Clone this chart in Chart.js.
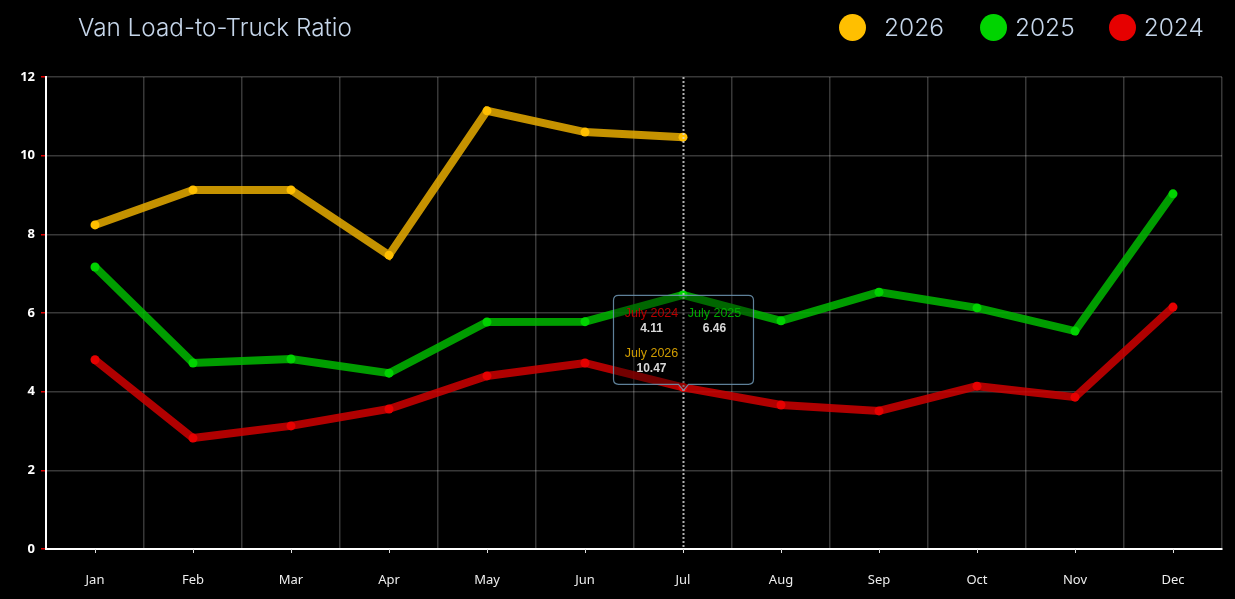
<!DOCTYPE html>
<html>
<head>
<meta charset="utf-8">
<script src="https://cdn.jsdelivr.net/npm/chart.js@4.4.1/dist/chart.umd.min.js"></script>
<style>
  html, body { margin: 0; padding: 0; background: #000; }
  body { width: 1235px; height: 599px; position: relative; overflow: hidden; }
  #wrap { position: absolute; left: 0; top: 0; width: 1235px; height: 599px; }
  #title { position: absolute; left: 78px; top: 12px; font-family: Inter, "Noto Sans", sans-serif; font-weight: 300; font-size: 24.3px; color: #c6d6ea; white-space: nowrap; }
  #legend { position: absolute; top: 12px; left: 839px; font-family: Inter, "Noto Sans", sans-serif; font-weight: 300; font-size: 24.5px; color: #c6d6ea; white-space: nowrap; display: flex; align-items: center; }
  .item { display: flex; align-items: center; }
  .dot { width: 27px; height: 27px; border-radius: 50%; display: inline-block; }
</style>
</head>
<body>
<div id="wrap"><canvas id="c" width="1235" height="599"></canvas></div>
<div id="title">Van Load-to-Truck Ratio</div>
<div id="legend"></div>
<script>
const months = ["Jan","Feb","Mar","Apr","May","Jun","Jul","Aug","Sep","Oct","Nov","Dec"];
const fullMonths = ["January","February","March","April","May","June","July","August","September","October","November","December"];
const years = ["2024","2025","2026"];
const values2024 = [4.81, 2.82, 3.13, 3.56, 4.40, 4.73, 4.11, 3.66, 3.51, 4.14, 3.86, 6.15];
const values2025 = [7.17, 4.73, 4.83, 4.47, 5.77, 5.78, 6.46, 5.80, 6.53, 6.13, 5.54, 9.03];
const values2026 = [8.24, 9.13, 9.13, 7.47, 11.14, 10.60, 10.47];
const yTicks = [0, 2, 4, 6, 8, 10, 12];
const hoverIndex = 6;

const lineColors = ["rgba(207,0,0,0.85)", "rgba(0,184,0,0.85)", "rgba(232,172,0,0.85)"];
const pointColors = ["#e60000", "#00d400", "#ffbf00"];
const textColors = ["#b80000", "#00a800", "#d09c00"];
const seriesValues = [values2024, values2025, values2026];

// HTML legend (reverse order)
const legendEl = document.getElementById('legend');
const gaps = {"2026": 18, "2025": 8, "2024": 8};
const itemGaps = {"2026": 36, "2025": 34, "2024": 0};
[2, 1, 0].forEach(i => {
  const it = document.createElement('div');
  it.className = 'item';
  it.style.marginRight = itemGaps[years[i]] + 'px';
  const d = document.createElement('span');
  d.className = 'dot';
  d.style.background = pointColors[i];
  d.style.marginRight = gaps[years[i]] + 'px';
  const t = document.createElement('span');
  t.textContent = years[i];
  it.appendChild(d); it.appendChild(t);
  legendEl.appendChild(it);
});

const overlayPlugin = {
  id: 'overlay',
  afterDatasetsDraw(chart) {
    const ctx = chart.ctx;
    const x = chart.scales.x;
    const y = chart.scales.y;
    const area = chart.chartArea;
    ctx.save();
    // x tick marks at category centers
    ctx.strokeStyle = '#e0e0e0';
    ctx.lineWidth = 1;
    months.forEach((m, i) => {
      const px = Math.round(x.getPixelForValue(i)) + 0.5;
      ctx.beginPath();
      ctx.moveTo(px, area.bottom);
      ctx.lineTo(px, area.bottom + 4);
      ctx.stroke();
    });
    // vertical hover line
    const hx = Math.round(x.getPixelForValue(hoverIndex)) + 0.5;
    ctx.strokeStyle = 'rgba(220,220,220,0.8)';
    ctx.setLineDash([2, 2]);
    ctx.lineWidth = 2;
    ctx.beginPath();
    ctx.moveTo(hx, area.top);
    ctx.lineTo(hx, area.bottom);
    ctx.stroke();
    ctx.setLineDash([]);
    // tooltip box
    const bw = 140, bh = 89;
    const bx = hx - bw / 2, by = y.getPixelForValue(values2024[hoverIndex]) - 3 - bh;
    const r = 5;
    ctx.beginPath();
    ctx.moveTo(bx + r, by);
    ctx.lineTo(bx + bw - r, by);
    ctx.quadraticCurveTo(bx + bw, by, bx + bw, by + r);
    ctx.lineTo(bx + bw, by + bh - r);
    ctx.quadraticCurveTo(bx + bw, by + bh, bx + bw - r, by + bh);
    ctx.lineTo(hx + 5, by + bh);
    ctx.lineTo(hx, by + bh + 6);
    ctx.lineTo(hx - 5, by + bh);
    ctx.lineTo(bx + r, by + bh);
    ctx.quadraticCurveTo(bx, by + bh, bx, by + bh - r);
    ctx.lineTo(bx, by + r);
    ctx.quadraticCurveTo(bx, by, bx + r, by);
    ctx.closePath();
    ctx.fillStyle = 'rgba(0,0,0,0.35)';
    ctx.fill();
    ctx.strokeStyle = 'rgba(110,150,180,0.85)';
    ctx.lineWidth = 1.2;
    ctx.stroke();
    // tooltip texts
    const cells = [
      {i: 0, cx: bx + 38, ty: by + 18},
      {i: 1, cx: bx + 101, ty: by + 18},
      {i: 2, cx: bx + 38, ty: by + 58}
    ];
    ctx.textAlign = 'center';
    ctx.textBaseline = 'middle';
    cells.forEach(c => {
      ctx.font = '12.5px "Liberation Sans", Arial, sans-serif';
      ctx.fillStyle = textColors[c.i];
      ctx.fillText(fullMonths[hoverIndex] + ' ' + years[c.i], c.cx, c.ty);
      ctx.font = 'bold 12px "Liberation Sans", Arial, sans-serif';
      ctx.fillStyle = '#d8d8d8';
      ctx.fillText(seriesValues[c.i][hoverIndex].toFixed(2), c.cx, c.ty + 15);
    });
    ctx.restore();
  }
};

const datasets = years.map((yr, i) => ({
  label: yr,
  data: seriesValues[i],
  borderColor: lineColors[i],
  backgroundColor: pointColors[i],
  pointBackgroundColor: pointColors[i],
  pointBorderWidth: 0,
  pointRadius: 4.5,
  borderWidth: 8,
  tension: 0,
  fill: false
}));

new Chart(document.getElementById('c'), {
  type: 'line',
  data: { labels: months, datasets: datasets },
  options: {
    responsive: false,
    animation: false,
    events: [],
    layout: { padding: { top: 77, left: 0, right: 13, bottom: 0 } },
    plugins: { legend: { display: false }, tooltip: { enabled: false }, title: { display: false } },
    scales: {
      x: {
        offset: true,
        grid: { offset: true, color: 'rgba(255,255,255,0.22)', lineWidth: 1.5, drawTicks: false },
        border: { color: '#ffffff', width: 2 },
        ticks: { color: '#ededed', font: { family: '"Noto Sans", "Open Sans", sans-serif', size: 13 }, padding: 23 },
        afterFit(s) { s.height = 50; }
      },
      y: {
        min: 0, max: 12,
        afterBuildTicks(s) { s.ticks = yTicks.map(v => ({ value: v })); },
        grid: { color: 'rgba(255,255,255,0.22)', lineWidth: 1.5, tickColor: '#e00000', tickLength: 5 },
        border: { color: '#ffffff', width: 2 },
        ticks: { color: '#ffffff', font: { family: '"Noto Sans", "Open Sans", sans-serif', size: 13, weight: 'bold' }, padding: 6 },
        afterFit(s) { s.width = 46; }
      }
    }
  },
  plugins: [overlayPlugin]
});
</script>
</body>
</html>
